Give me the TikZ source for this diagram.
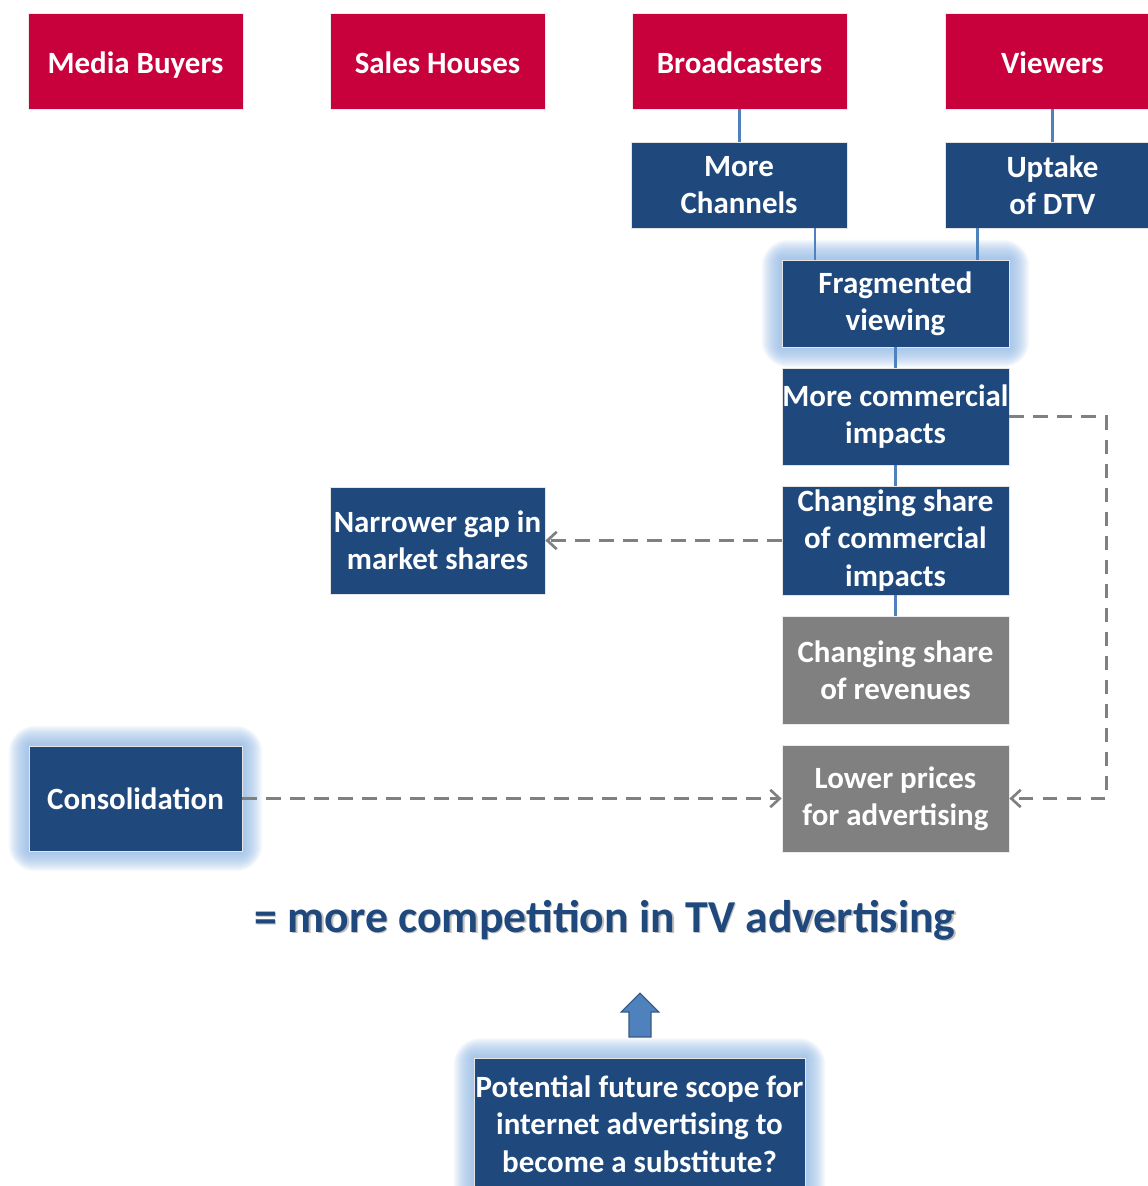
\documentclass[tikz,border=0pt]{standalone}
\usepackage{fontspec}
\setmainfont{Carlito}
\usetikzlibrary{arrows.meta,backgrounds,calc}

\definecolor{crimson}{RGB}{200,0,60}
\definecolor{navy}{RGB}{31,73,125}
\definecolor{slate}{RGB}{128,128,128}
\definecolor{link}{RGB}{79,129,189}
\definecolor{halo}{RGB}{141,180,226}
\definecolor{dashc}{RGB}{128,128,128}

\tikzset{
  x=0.75pt, y=-0.75pt,
  lbl/.style={font=\fontsize{23.2}{28}\selectfont\bfseries, text=white,
              align=center, inner sep=0pt},
  bw/.style={minimum width=#1*0.75pt},
  bh/.style={minimum height=#1*0.75pt},
  redbox/.style={lbl, fill=crimson, draw=white!85!gray, line width=0.6pt,
                 text height=22pt, text depth=4pt},
  bluebox/.style={lbl, fill=navy, draw=white!80!gray, line width=0.6pt},
  greybox/.style={lbl, fill=slate, draw=white!85!gray, line width=0.6pt},
  conn/.style={draw=link, line width=2.2pt},
  dashlink/.style={draw=dashc, line width=2pt, dash pattern=on 11pt off 7pt,
                   -{Straight Barb[length=7pt,width=13pt,line width=2pt]}},
}

% soft blue glow around a node, drawn behind it
\newcommand\halofor[1]{%
  \begin{scope}[on background layer]
    \foreach \d in {1,...,20}{
      \fill[halo, opacity=0.065, rounded corners=\d pt]
        ($(#1.south west)+(-\d,\d)$) rectangle ($(#1.north east)+(\d,-\d)$);
    }
  \end{scope}}

\begin{document}
\begin{tikzpicture}
\useasboundingbox (0,0) rectangle (1148,1186);
\clip (0,0) rectangle (1148,1186);

% top row
\node[redbox, bw=215, bh=96] (mb) at (135.5,61)  {Media Buyers};
\node[redbox, bw=215, bh=96] (sh) at (437.5,61)  {Sales Houses};
\node[redbox, bw=215, bh=96] (br) at (739.5,61)  {Broadcasters};
\node[redbox, bw=215, bh=96] (vw) at (1052.5,61) {Viewers};

% causes
\node[bluebox, bw=216, bh=86] (mc) at (739,185)    {More\\Channels};
\node[bluebox, bw=215, bh=86] (ud) at (1052.5,185) {Uptake\\of DTV};

% chain
\node[bluebox, bw=227, bh=87]  (fv)  at (895.5,303.5) {Fragmented\\viewing};
\node[bluebox, bw=227, bh=97]  (mci) at (895.5,416.5) {More commercial\\impacts};
\node[bluebox, bw=227, bh=109] (csc) at (895.5,540.5) {Changing share\\of commercial\\impacts};
\node[greybox, bw=227, bh=108] (csr) at (895.5,670)   {Changing share\\of revenues};
\node[greybox, bw=227, bh=107] (lp)  at (895.5,798.5) {Lower prices\\for advertising};

\node[bluebox, bw=215, bh=107] (ng)  at (437.5,540.5) {Narrower gap in\\market shares};
\node[bluebox, bw=213, bh=105] (con) at (135.5,798.5) {Consolidation};

% conclusion
\node[lbl, text=black!25, font=\fontsize{34.3}{40}\selectfont\bfseries] at (606.5,921.5)
  {= more competition in TV advertising};
\node[lbl, text=navy, font=\fontsize{34.3}{40}\selectfont\bfseries] (res) at (605,920)
  {= more competition in TV advertising};

\node[bluebox, bw=331, bh=142, anchor=north] (pot) at (639.5,1058) {};
\node[lbl] (pottext) at (639.5,1124) {Potential future scope for\\internet advertising to\\become a substitute?};

% block arrow pointing up to the conclusion
\filldraw[fill=link, draw=link!70!black, line width=0.8pt]
  (629,1037) -- (629,1012) -- (621,1012) -- (640,993) -- (659,1012)
  -- (651,1012) -- (651,1037) -- cycle;

% glows
\halofor{fv}
\halofor{con}
\halofor{pot}

% solid links
\draw[conn] (br.south) -- (br.south |- mc.north);
\draw[conn] (vw.south) -- (vw.south |- ud.north);
\draw[conn] ([xshift=57pt]mc.south) -- ([xshift=57pt]mc.south |- fv.north);
\draw[conn] ([xshift=-56.6pt]ud.south) -- ([xshift=-56.6pt]ud.south |- fv.north);
\draw[conn] (fv.south) -- (mci.north);
\draw[conn] (mci.south) -- (csc.north);
\draw[conn] (csc.south) -- (csr.north);

% dashed influences
\draw[dashlink] (mci.east) -- ++(97,0) |- (lp.east);
\draw[dashlink] (csc.west) -- (ng.east);
\draw[dashlink] (con.east) -- (lp.west);
\end{tikzpicture}
\end{document}
